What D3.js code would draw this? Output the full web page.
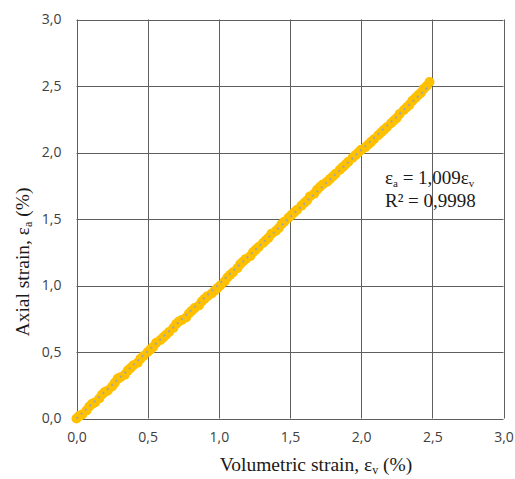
<!DOCTYPE html>
<html><head><meta charset="utf-8">
<script src="https://cdn.jsdelivr.net/npm/d3@7"></script>
<style>body{margin:0;background:#fff}svg{display:block}</style>
</head><body>
<svg id="chart" width="515" height="479"></svg>
<script>
const volStrain = [0.00,0.02,0.04,0.07,0.09,0.11,0.13,0.16,0.18,0.20,0.22,0.25,0.27,0.29,0.31,0.34,0.36,0.38,0.40,0.43,0.45,0.47,0.50,0.52,0.54,0.56,0.59,0.61,0.63,0.65,0.68,0.70,0.72,0.74,0.77,0.79,0.81,0.83,0.86,0.88,0.90,0.92,0.95,0.97,0.99,1.01,1.04,1.06,1.08,1.10,1.13,1.15,1.17,1.19,1.22,1.24,1.26,1.28,1.31,1.33,1.35,1.37,1.40,1.42,1.44,1.46,1.49,1.51,1.53,1.55,1.58,1.60,1.62,1.64,1.67,1.69,1.71,1.73,1.76,1.78,1.80,1.82,1.85,1.87,1.89,1.91,1.94,1.96,1.98,2.00,2.03,2.05,2.07,2.09,2.12,2.14,2.16,2.18,2.21,2.23,2.25,2.27,2.30,2.32,2.34,2.36,2.38,2.40,2.42,2.44,2.46,2.48];
const axialStrain = [0.00,0.02,0.03,0.06,0.09,0.11,0.12,0.15,0.18,0.20,0.21,0.24,0.27,0.30,0.31,0.33,0.36,0.38,0.40,0.42,0.45,0.47,0.50,0.52,0.54,0.57,0.59,0.61,0.63,0.65,0.68,0.71,0.73,0.74,0.76,0.79,0.81,0.83,0.85,0.88,0.90,0.92,0.94,0.96,0.98,1.00,1.03,1.06,1.08,1.10,1.13,1.16,1.18,1.20,1.22,1.25,1.27,1.29,1.32,1.34,1.36,1.39,1.41,1.43,1.46,1.48,1.51,1.53,1.55,1.57,1.60,1.62,1.64,1.67,1.69,1.72,1.74,1.76,1.78,1.80,1.82,1.84,1.87,1.89,1.91,1.93,1.96,1.98,2.00,2.02,2.04,2.06,2.08,2.10,2.13,2.15,2.17,2.19,2.22,2.24,2.26,2.29,2.32,2.34,2.36,2.39,2.41,2.43,2.45,2.48,2.50,2.53];
const tickValues = [0,0.5,1.0,1.5,2.0,2.5,3.0];
const trendSlope = 1.009;
const rSquared = "0,9998";

const svg = d3.select("#chart");
const L = 76.5, R = 503.5, T = 19.5, B = 418.5;
const x = d3.scaleLinear().domain([0,3]).range([L,R]);
const y = d3.scaleLinear().domain([0,3]).range([B,T]);
const fmt = d => d3.format(".1f")(d).replace(".", ",");
const gridColor = "#5f5f5f";

// grid
const g = svg.append("g");
g.selectAll("line.v").data(tickValues).enter().append("line")
  .attr("x1", d => Math.round(x(d))+0.5).attr("x2", d => Math.round(x(d))+0.5)
  .attr("y1", T).attr("y2", B).attr("stroke", gridColor).attr("stroke-width", 1);
g.selectAll("line.h").data(tickValues).enter().append("line")
  .attr("y1", d => Math.round(y(d))+0.5).attr("y2", d => Math.round(y(d))+0.5)
  .attr("x1", L).attr("x2", R).attr("stroke", gridColor).attr("stroke-width", 1);

// axes labels
const xAxis = d3.axisBottom(x).tickValues(tickValues).tickFormat(fmt).tickSize(0).tickPadding(14);
const yAxis = d3.axisLeft(y).tickValues(tickValues).tickFormat(fmt).tickSize(0).tickPadding(15);
const gx = svg.append("g").attr("transform", `translate(0,${B})`).call(xAxis);
const gy = svg.append("g").attr("transform", `translate(${L},0)`).call(yAxis);
[gx, gy].forEach(a => {
  a.select(".domain").remove();
  a.selectAll("text").attr("font-family", "'Open Sans', sans-serif").attr("font-size", 14).attr("fill", "#404040");
});

// points
svg.append("g").selectAll("circle").data(volStrain.map((v,i) => [v, axialStrain[i]])).enter()
  .append("circle").attr("cx", d => x(d[0])).attr("cy", d => y(d[1])).attr("r", 5).attr("fill", "#FFC000");

// trendline
const xmax = d3.max(volStrain);
svg.append("line").attr("x1", x(0)).attr("y1", y(0)).attr("x2", x(xmax)).attr("y2", y(trendSlope*xmax))
  .attr("stroke", "#A5A5A5").attr("stroke-width", 2).attr("stroke-dasharray", "2,4");

// equation
const serif = "'Liberation Serif', 'Times New Roman', serif";
const eq = svg.append("text").attr("x", 385).attr("y", 184).attr("font-family", serif).attr("font-size", 19).attr("fill", "#1a1a1a");
eq.append("tspan").text("ε");
eq.append("tspan").attr("font-size", 11).attr("dy", 3).text("a");
eq.append("tspan").attr("dy", -3).text(" = " + String(trendSlope).replace(".", ",") + "ε");
eq.append("tspan").attr("font-size", 11).attr("dy", 3).text("v");
svg.append("text").attr("x", 385).attr("y", 207).attr("font-family", serif).attr("font-size", 19).attr("fill", "#1a1a1a")
  .text("R² = " + rSquared);

// x title
const xt = svg.append("text").attr("x", 316).attr("y", 471).attr("text-anchor", "middle")
  .attr("font-family", serif).attr("font-size", 19.5).attr("fill", "#1a1a1a");
xt.append("tspan").text("Volumetric strain, ε");
xt.append("tspan").attr("font-size", 12).attr("dy", 3).text("v");
xt.append("tspan").attr("dy", -3).text(" (%)");

// y title
const yt = svg.append("text").attr("transform", "translate(29,262) rotate(-90)").attr("text-anchor", "middle")
  .attr("font-family", serif).attr("font-size", 19.5).attr("fill", "#1a1a1a");
yt.append("tspan").text("Axial strain, ε");
yt.append("tspan").attr("font-size", 12).attr("dy", 3).text("a");
yt.append("tspan").attr("dy", -3).text(" (%)");
</script>
</body></html>
